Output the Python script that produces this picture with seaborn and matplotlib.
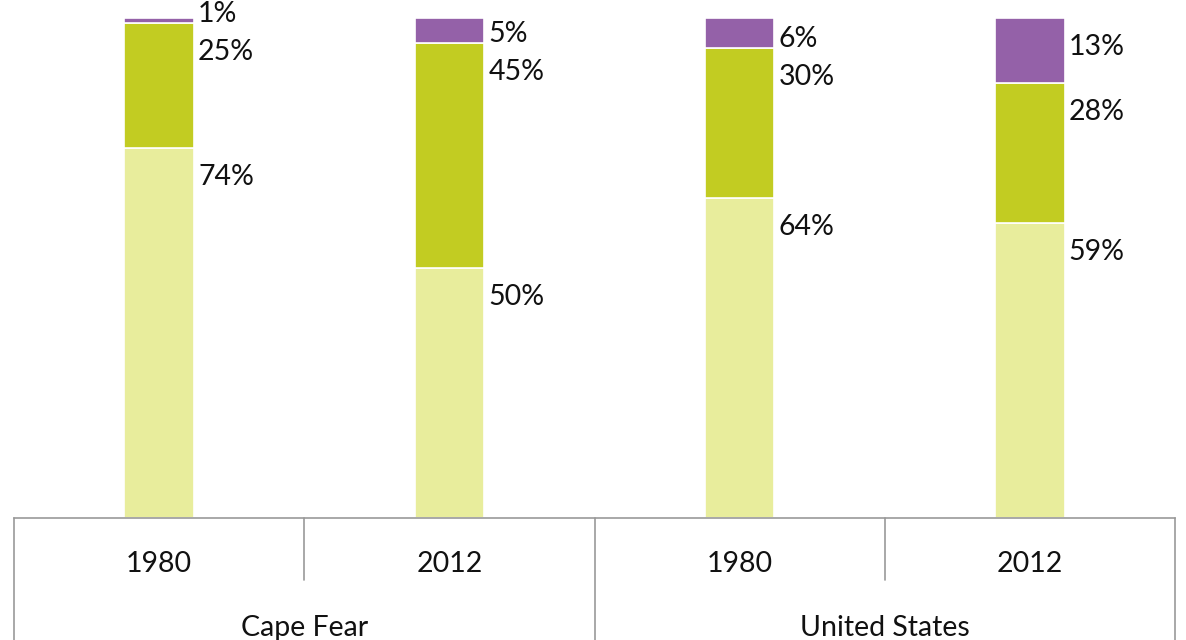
import matplotlib
matplotlib.use("Agg")
import matplotlib.pyplot as plt
import matplotlib.transforms as mtransforms
import seaborn as sns
import numpy as np
import pandas as pd

regions = ["Cape Fear", "Cape Fear", "United States", "United States"]
years = ["1980", "2012", "1980", "2012"]
bottom_share = [74, 50, 64, 59]
middle_share = [25, 45, 30, 28]
top_share = [1, 5, 6, 13]

colors = ["#E8ED9C", "#C2CC22", "#9461A8"]

sns.set_theme(style="white")
plt.rcParams["font.family"] = ["Lato", "DejaVu Sans"]

df = pd.DataFrame({
    "bar": [f"{r} {y}" for r, y in zip(regions, years)],
    "low": bottom_share,
    "mid": middle_share,
    "high": top_share,
})
df["mid_base"] = df["low"]
df["high_base"] = df["low"] + df["mid"]

fig = plt.figure(figsize=(11.86, 6.4), dpi=100)
ax = fig.add_axes([14 / 1186, 122 / 640, 1161 / 1186, 500 / 640])

order = list(df["bar"])
width = 0.24
sns.barplot(data=df, x="bar", y="low", order=order, color=colors[0], saturation=1,
            width=width, edgecolor="white", linewidth=1.2, ax=ax)
sns.barplot(data=df, x="bar", y="mid", order=order, color=colors[1], saturation=1,
            width=width, bottom=df["mid_base"].values, edgecolor="white", linewidth=1.2, ax=ax)
sns.barplot(data=df, x="bar", y="high", order=order, color=colors[2], saturation=1,
            width=width, bottom=df["high_base"].values, edgecolor="white", linewidth=1.2, ax=ax)

ax.set_xlim(-0.5, 3.5)
ax.set_ylim(0, 100)
ax.set_xlabel("")
ax.set_ylabel("")
ax.set_xticks([])
ax.set_yticks([])
for side in ["top", "right", "left"]:
    ax.spines[side].set_visible(False)
ax.spines["bottom"].set_color("#999999")
ax.spines["bottom"].set_linewidth(1.2)

# value labels: just below each segment top, pushed up to avoid overlap
fs = 20.5
for i in range(len(df)):
    segs = [df["low"][i], df["mid"][i], df["high"][i]]
    tops = np.cumsum(segs)
    prev = -100
    for val, top in zip(segs, tops):
        y = max(top - 5.8, prev + 7.6)
        prev = y
        ax.text(i + width / 2 + 0.014, y, f"{val}%", ha="left", va="center",
                fontsize=fs, color="#111111", clip_on=False)

# category table under the axis
trans = mtransforms.blended_transform_factory(ax.transData, ax.transAxes)
line_kw = dict(color="#999999", linewidth=1.2, clip_on=False, transform=trans)
for x in [-0.5, 1.5, 3.5]:
    ax.plot([x, x], [0, -0.244], **line_kw)
for x in [0.5, 2.5]:
    ax.plot([x, x], [0, -0.124], **line_kw)

for i, y in enumerate(years):
    ax.text(i, -0.092, y, ha="center", va="center", fontsize=fs, color="#111111",
            transform=trans)
for j, r in enumerate(["Cape Fear", "United States"]):
    ax.text(2 * j + 0.5, -0.22, r, ha="center", va="center", fontsize=fs,
            color="#111111", transform=trans)

fig.savefig("out.png", dpi=100)
